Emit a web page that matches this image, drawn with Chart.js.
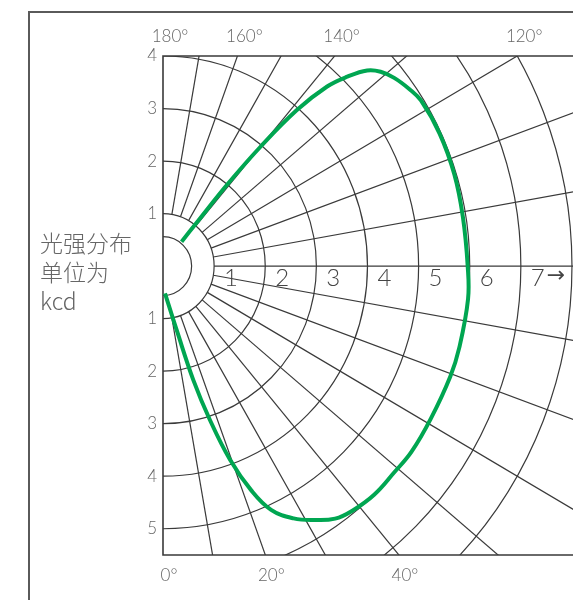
<!DOCTYPE html>
<html lang="zh">
<head>
<meta charset="UTF-8">
<title>光强分布</title>
<style>
  body { margin: 0; background: #fff; overflow: hidden; }
  #wrap { position: relative; width: 573px; height: 600px; overflow: hidden; }
  #frame { position: absolute; left: 28px; top: 11px; width: 700px; height: 700px;
           border-left: 2px solid #5a5a5a; border-top: 2px solid #5a5a5a; }
  #unit { position: absolute; left: 40px; top: 228px; color: #666;
          font: 300 23px "Noto Sans CJK SC", "Lato", sans-serif; line-height: 29px; }
  canvas { position: absolute; left: 0; top: 0; }
</style>
<script src="https://cdn.jsdelivr.net/npm/chart.js"></script>
</head>
<body>
<div id="wrap">
  <div id="frame"></div>
  <canvas id="c" width="573" height="600"></canvas>
  <div id="unit">光强分布<br>单位为<br>kcd</div>
</div>
<script>
// 光强曲线：角度 (0° 朝下, 90° 朝右, 180° 朝上) 与光强 (kcd)
const angles    = [142, 141.5, 141, 140, 138.6, 136.8, 135, 133, 131, 128.4, 125, 122, 115, 107, 99, 90,
                   84, 75, 69.5, 61, 54, 49, 43.5, 38.5, 35, 31.5, 28, 24.5, 22, 19.6, 17.4, 15.3, 12.4, 4.3];
const intensity = [0.59, 1.05, 2.01, 2.96, 3.96, 4.69, 5.10, 5.46, 5.64, 5.77, 5.88, 5.95, 5.97, 5.96, 5.94, 5.96,
                   6.0, 6.0, 6.0, 5.99, 6.01, 5.99, 6.0, 5.95, 5.87, 5.67, 5.44, 5.1, 4.6, 3.92, 3.07, 2.25, 1.25, 0.52];

const topAngles    = [180, 160, 140, 120];
const bottomAngles = [0, 20, 40];
const yTickValues  = [4, 3, 2, 1, -1, -2, -3, -4, -5];
const radialLabels = [1, 2, 3, 4, 5, 6, 7];

const rad = d => d * Math.PI / 180;
// 极坐标 -> 直角坐标（数据单位）
const points = angles.map((a, i) => ({
  x: intensity[i] * Math.sin(rad(a)),
  y: -intensity[i] * Math.cos(rad(a))
}));

const Y_TOP = 4, Y_BOTTOM = -5.5;

// 极坐标网格：同心半圆 + 每 10° 一条射线
const polarGrid = {
  id: 'polarGrid',
  beforeDatasetsDraw(chart) {
    const { ctx, width, scales: { x, y } } = chart;
    const cx = x.getPixelForValue(0), cy = y.getPixelForValue(0);
    const ux = x.getPixelForValue(1) - cx, uy = cy - y.getPixelForValue(1);
    const top = y.getPixelForValue(Y_TOP), bottom = y.getPixelForValue(Y_BOTTOM);
    ctx.save();
    ctx.beginPath();
    ctx.rect(cx, top, width - cx, bottom - top);
    ctx.clip();
    ctx.strokeStyle = '#3a3a3a';
    ctx.lineWidth = 1.2;
    for (let r = 1; r <= 8; r++) {
      ctx.beginPath();
      ctx.ellipse(cx, cy, r * ux, r * uy, 0, -Math.PI / 2, Math.PI / 2);
      ctx.stroke();
    }
    ctx.beginPath();
    ctx.ellipse(cx, cy, 0.56 * ux, 0.56 * uy, 0, -Math.PI / 2, Math.PI / 2);
    ctx.stroke();
    for (let a = 10; a < 180; a += 10) {
      const s = Math.sin(rad(a)), c = Math.cos(rad(a));
      ctx.beginPath();
      ctx.moveTo(cx + s * ux, cy + c * uy);
      ctx.lineTo(cx + 14 * s * ux, cy + 14 * c * uy);
      ctx.stroke();
    }
    ctx.restore();

    // 左、上、下边框
    ctx.save();
    ctx.strokeStyle = '#3a3a3a';
    ctx.lineWidth = 1.6;
    ctx.beginPath();
    ctx.moveTo(width + 5, top);
    ctx.lineTo(cx, top);
    ctx.lineTo(cx, bottom);
    ctx.lineTo(width + 5, bottom);
    ctx.stroke();
    ctx.restore();
  },
  afterDraw(chart) {
    const { ctx, scales: { x, y } } = chart;
    const cy = y.getPixelForValue(0);
    ctx.save();
    ctx.fillStyle = '#444';
    ctx.font = '300 24px Lato, sans-serif';
    ctx.textBaseline = 'top';
    ctx.textAlign = 'left';
    radialLabels.forEach(n => ctx.fillText(String(n), x.getPixelForValue(n) + 10, cy));
    ctx.font = '22px "DejaVu Sans", sans-serif';
    ctx.fillText('→', x.getPixelForValue(7) + 26, cy - 1);
    ctx.restore();
  }
};

const tickFont = { family: 'Lato', size: 17, weight: '300' };

new Chart(document.getElementById('c'), {
  type: 'scatter',
  data: {
    datasets: [{
      data: points,
      showLine: true,
      borderColor: '#00a651',
      borderWidth: 4,
      pointRadius: 0,
      tension: 0.4,
      fill: false
    }]
  },
  options: {
    responsive: false,
    animation: false,
    devicePixelRatio: 1,
    layout: { padding: 0 },
    plugins: { legend: { display: false }, tooltip: { enabled: false } },
    scales: {
      x: {
        type: 'linear', position: 'bottom', min: 0, max: 8.02,
        grid: { display: false, drawTicks: false },
        border: { display: false },
        afterFit: s => { s.height = 45; },
        afterBuildTicks: s => { s.ticks = bottomAngles.map(a => ({ value: -Y_BOTTOM * Math.tan(rad(a)) })); },
        ticks: {
          autoSkip: false, maxRotation: 0, padding: 10, labelOffset: 6,
          color: '#666', font: tickFont,
          callback: (v, i) => bottomAngles[i] + '°'
        }
      },
      xTop: {
        type: 'linear', position: 'top', min: 0, max: 8.02,
        grid: { display: false, drawTicks: false },
        border: { display: false },
        afterFit: s => { s.height = 56; },
        afterBuildTicks: s => { s.ticks = topAngles.map(a => ({ value: Y_TOP * Math.tan(rad(180 - a)) })); },
        ticks: {
          autoSkip: false, maxRotation: 0, padding: 9, labelOffset: 7,
          color: '#666', font: tickFont,
          callback: (v, i) => topAngles[i] + '°'
        }
      },
      y: {
        type: 'linear', min: Y_BOTTOM, max: Y_TOP,
        grid: { display: false, drawTicks: false },
        border: { display: false },
        afterFit: s => { s.width = 163; },
        afterBuildTicks: s => { s.ticks = yTickValues.map(v => ({ value: v })); },
        ticks: {
          autoSkip: false, padding: 6,
          color: '#666', font: tickFont,
          callback: v => String(Math.abs(v))
        }
      }
    }
  },
  plugins: [polarGrid]
});
</script>
</body>
</html>
